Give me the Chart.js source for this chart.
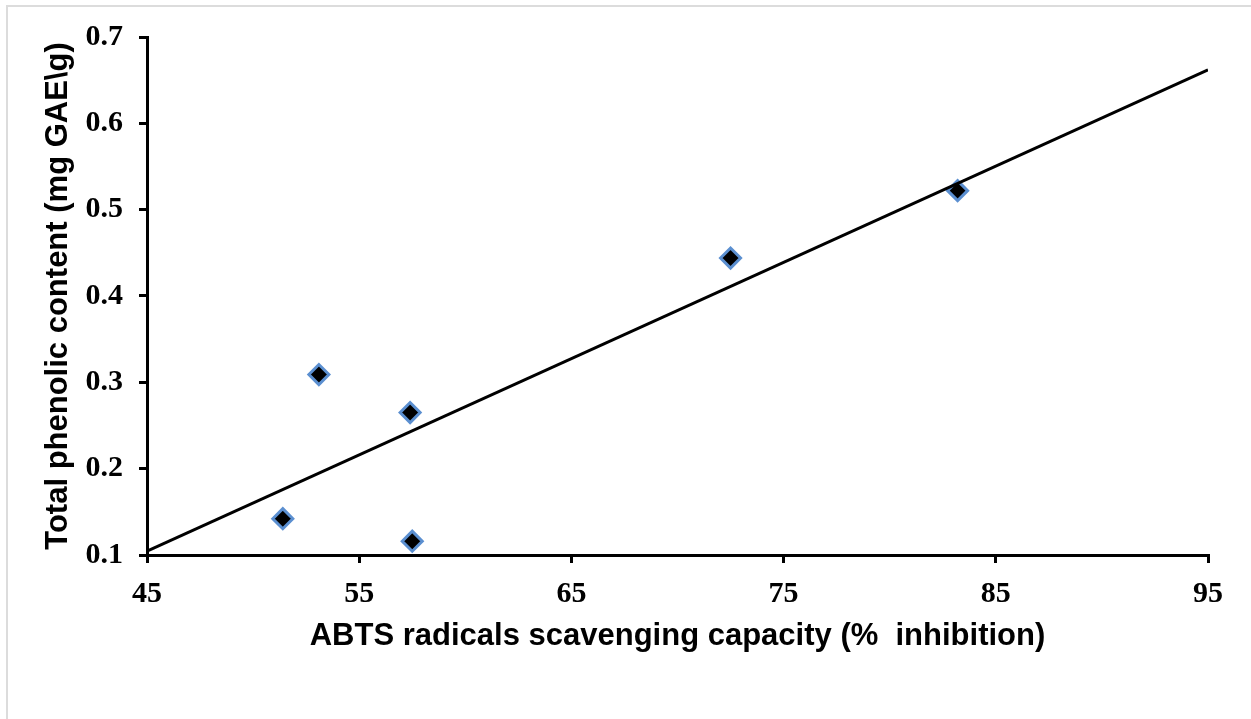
<!DOCTYPE html>
<html>
<head>
<meta charset="utf-8">
<script src="https://cdn.jsdelivr.net/npm/chart.js@4.4.0/dist/chart.umd.min.js"></script>
<style>
    body { margin: 0; background: #fff; }
    .frame { position: absolute; left: 6px; top: 5px; width: 1300px; height: 800px; border-left: 2px solid #dcdcdc; border-top: 2px solid #dcdcdc; }
    #scatterChart { position: absolute; left: 0; top: 0; }
</style>
</head>
<body>
<div class="frame"></div>
<canvas id="scatterChart" width="1251" height="719"></canvas>
<script>
// ABTS (% inhibition) vs total phenolic content (mg GAE/g)
var abtsValues = [51.4, 53.1, 57.4, 57.5, 72.5, 83.2];
var phenolicValues = [0.142, 0.309, 0.265, 0.116, 0.444, 0.522];

// linear trendline ends
var trendX = [45, 95];
var trendY = [0.1045, 0.662];

var xTicks = [45, 55, 65, 75, 85, 95];
var yTicks = [0.1, 0.2, 0.3, 0.4, 0.5, 0.6, 0.7];

var points = abtsValues.map(function (x, i) { return { x: x, y: phenolicValues[i] }; });
var trend = trendX.map(function (x, i) { return { x: x, y: trendY[i] }; });

var tickFont = { family: "'Liberation Serif', 'Times New Roman', serif", size: 30, weight: 'bold' };
var titleFont = { family: "'Liberation Sans', Arial, sans-serif", size: 31, weight: 'bold' };

var ctx = document.getElementById("scatterChart").getContext("2d");

var myChart = new Chart(ctx, {
    type: 'scatter',
    data: {
        datasets: [{
            label: 'Linear',
            data: trend,
            showLine: true,
            borderColor: '#000',
            borderWidth: 3,
            pointRadius: 0,
            order: 0
        }, {
            label: 'TPC',
            data: points,
            pointStyle: 'rectRot',
            pointRadius: 10,
            backgroundColor: '#000',
            borderColor: '#5b8fd0',
            borderWidth: 3,
            order: 1
        }]
    },
    options: {
        responsive: false,
        animation: false,
        layout: { padding: { left: 0, top: 37, right: 43, bottom: 0 } },
        plugins: {
            legend: { display: false },
            tooltip: { enabled: false }
        },
        scales: {
            x: {
                type: 'linear',
                min: 45,
                max: 95,
                afterBuildTicks: function (scale) {
                    scale.ticks = xTicks.map(function (v) { return { value: v }; });
                },
                afterFit: function (scale) { scale.height = 164; },
                ticks: {
                    color: '#000',
                    font: tickFont,
                    padding: 13,
                    maxRotation: 0,
                    callback: function (v) { return v; }
                },
                grid: { drawOnChartArea: false, color: '#000', lineWidth: 3, tickLength: 8 },
                border: { color: '#000', width: 3 },
                title: {
                    display: true,
                    text: 'ABTS radicals scavenging capacity (%  inhibition)',
                    color: '#000',
                    font: titleFont,
                    padding: { top: 0, bottom: 64 }
                }
            },
            y: {
                type: 'linear',
                min: 0.1,
                max: 0.7,
                afterBuildTicks: function (scale) {
                    scale.ticks = yTicks.map(function (v) { return { value: v }; });
                },
                afterFit: function (scale) { scale.width = 147; },
                ticks: {
                    color: '#000',
                    font: tickFont,
                    padding: 16,
                    callback: function (v) { return v.toFixed(1); }
                },
                grid: { drawOnChartArea: false, color: '#000', lineWidth: 3, tickLength: 8 },
                border: { color: '#000', width: 3 },
                title: {
                    display: true,
                    text: 'Total phenolic content (mg GAE\\g)',
                    color: '#000',
                    font: titleFont,
                    padding: { top: 40, bottom: 0 }
                }
            }
        }
    }
});
</script>
</body>
</html>
